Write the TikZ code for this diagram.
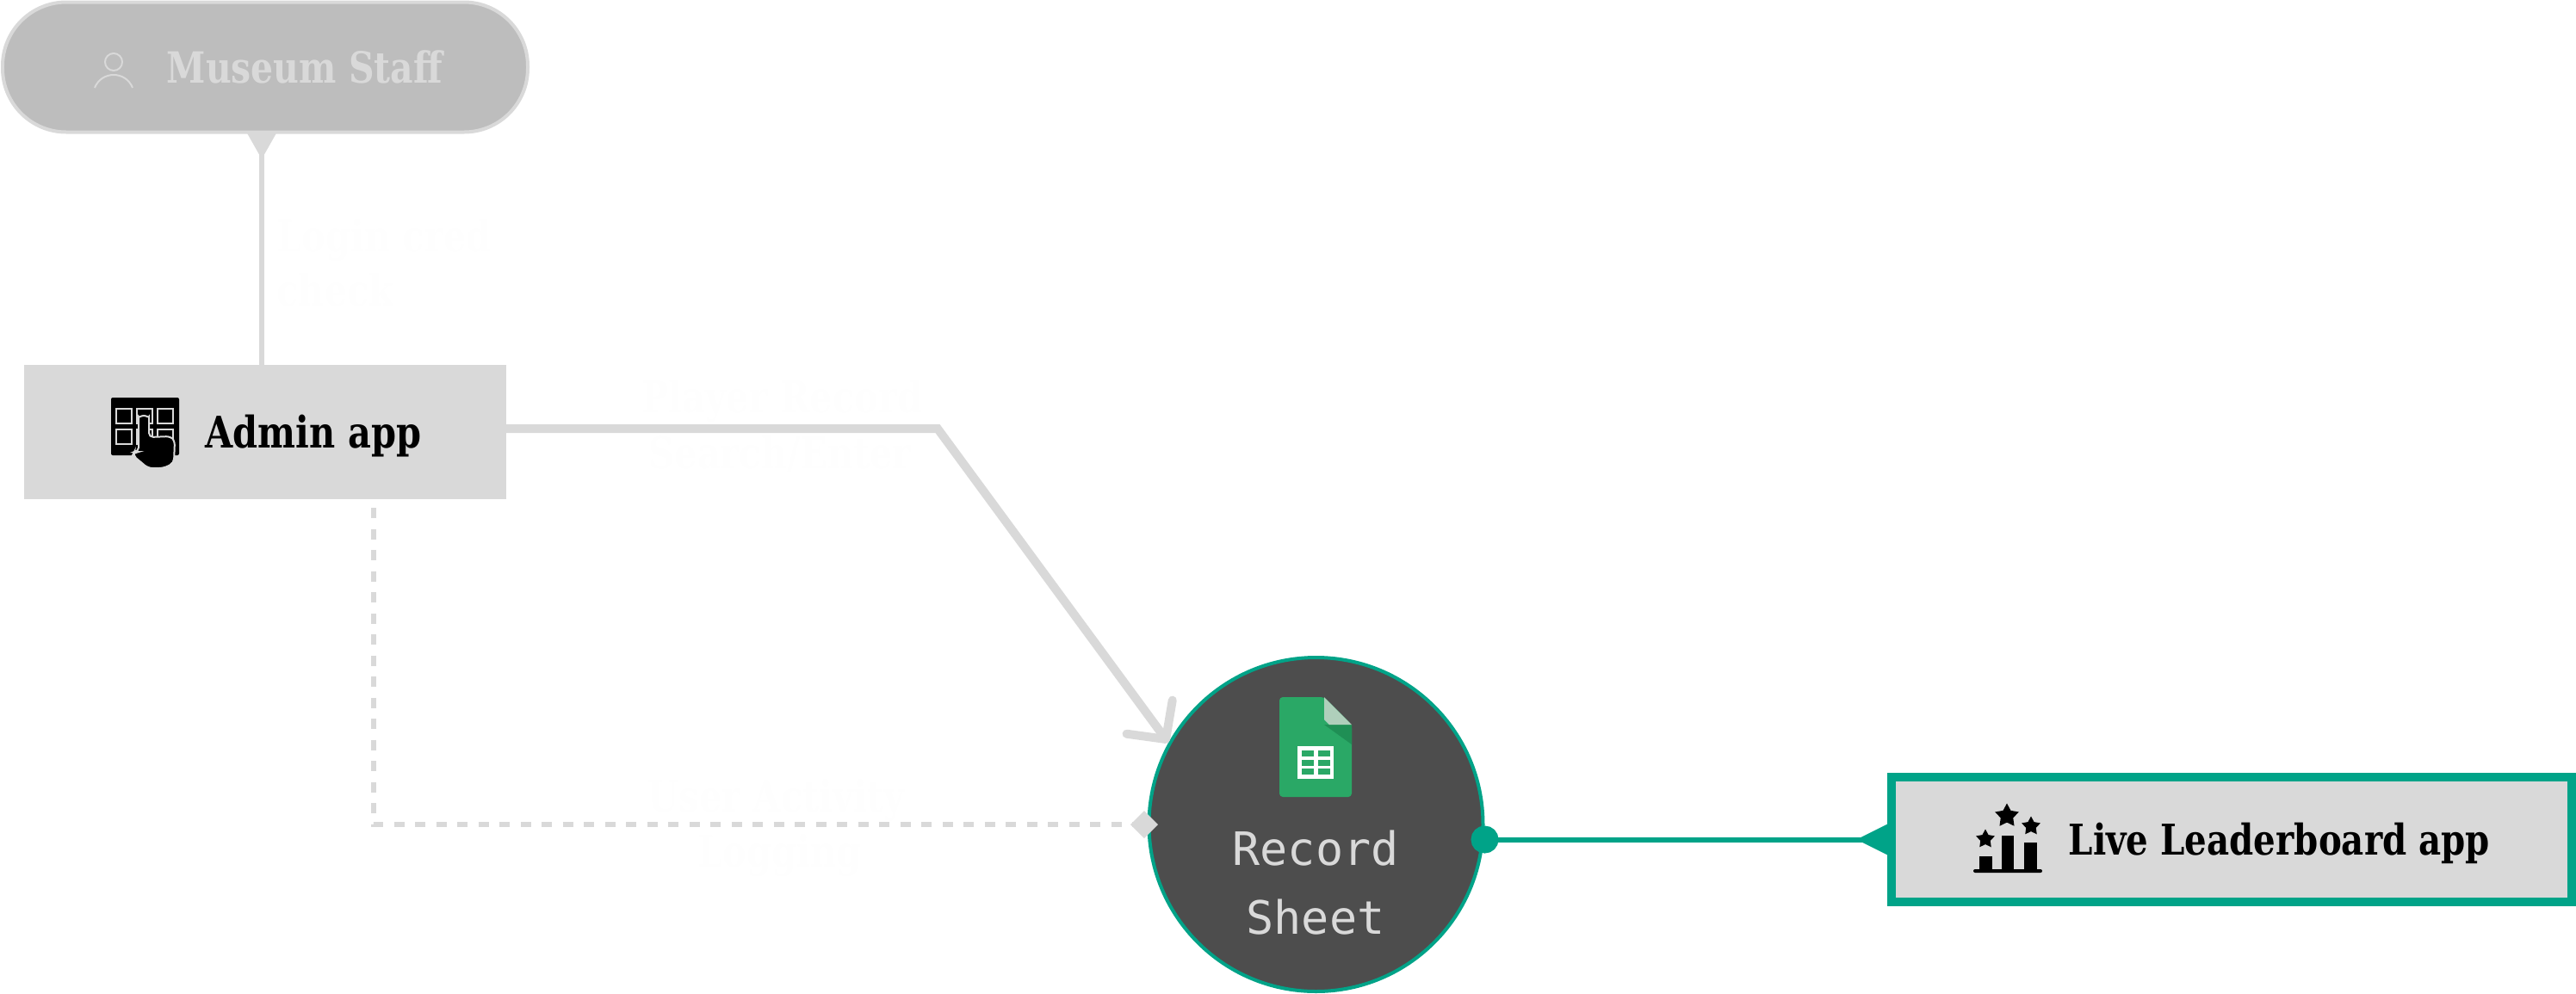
\documentclass[tikz,border=0pt]{standalone}
\usepackage{fontspec}
\usepackage{xcolor}
\usetikzlibrary{arrows.meta, positioning, shapes.geometric}
\newfontfamily\slabfont[FakeStretch=.82]{DejaVu Serif}
\newfontfamily\sheetfont{DejaVu Sans Mono}
\definecolor{boxgray}{HTML}{D9D9D9}
\definecolor{pillgray}{HTML}{BDBDBD}
\definecolor{sheetdark}{HTML}{4D4D4D}
\definecolor{teal}{HTML}{00A388}
\definecolor{docgreen}{HTML}{2AA866}
\definecolor{docshade}{HTML}{1F8F55}
\definecolor{docfold}{HTML}{AFCFBB}
\definecolor{ghost}{HTML}{FEFEFE}
\tikzstyle{pill}=[rectangle, draw=boxgray, line width=.04cm, fill=pillgray, rounded corners=.74cm, minimum width=6.1cm, minimum height=1.51cm]
\tikzstyle{appbox}=[rectangle, fill=boxgray, outer sep=0pt, minimum width=5.6cm, minimum height=1.56cm]
\tikzstyle{livebox}=[rectangle, draw=teal, line width=.1cm, fill=boxgray, minimum width=7.9cm, minimum height=1.45cm]
\tikzstyle{sheetcirc}=[circle, draw=teal, line width=.04cm, fill=sheetdark, minimum size=3.88cm]
\tikzstyle{applabel}=[font=\slabfont\bfseries\fontsize{14.4}{16}\selectfont, inner sep=0pt, anchor=base west]
\tikzstyle{ghostlabel}=[applabel, text=ghost]
\tikzstyle{grayline}=[draw=boxgray, line width=.06cm]
\tikzstyle{tealline}=[draw=teal, line width=.06cm]
\tikzstyle{blackstar}=[star, star points=5, star point ratio=1.9, fill=black, inner sep=0pt]

\begin{document}
\begin{tikzpicture}
\useasboundingbox (0,0) rectangle (29.92,-11.54);

% Record sheet
\node[sheetcirc] (sheet) at (15.285,-9.58) {};
\node[font=\sheetfont\fontsize{15.2}{22.8}\selectfont, text=boxgray, align=center, inner sep=0pt] (sheetlabel) at (15.28,-10.26) {Record\\Sheet};

\path[fill=docgreen, rounded corners=.04cm] (14.86,-8.10) -- (15.38,-8.10) -- (15.70,-8.42) -- (15.70,-9.26) -- (14.86,-9.26) -- cycle;
\fill[docshade] (15.38,-8.42) -- (15.70,-8.42) -- (15.70,-8.65) -- cycle;
\fill[docfold] (15.38,-8.10) -- (15.70,-8.42) -- (15.44,-8.42) -- (15.38,-8.36) -- cycle;
\fill[white] (15.07,-8.67) rectangle (15.49,-9.05);
\foreach \x in {15.12,15.31} {
    \foreach \y in {-8.72,-8.83,-8.93} {
        \fill[docgreen] (\x,\y) rectangle ++(.135,-.07);
    }
}

% Museum staff
\node[pill] (staff) at (3.08,-.78) {};
\node[applabel, text=boxgray, font=\slabfont\bfseries\fontsize{14.2}{16}\selectfont] (stafflabel) at (1.93,-.96) {Museum Staff};
\node[circle, draw=boxgray, line width=.02cm, minimum size=.2cm, inner sep=0pt] (head) at (1.32,-.72) {};
\draw[boxgray, line width=.02cm] (1.10,-1.02) .. controls (1.18,-.82) and (1.46,-.82) .. (1.54,-1.02);

% Admin app
\node[appbox] (admin) at (3.08,-5.02) {};
\node[applabel] (adminlabel) at (2.38,-5.20) {Admin app};
\fill[black, rounded corners=.02cm] (1.29,-4.62) rectangle (2.08,-5.29);
\foreach \x in {1.35,1.59,1.83} {
    \foreach \y in {-4.75,-4.99} {
        \draw[boxgray, line width=.02cm] (\x,\y) rectangle ++(.18,-.17);
    }
}
\draw[fill=black, draw=boxgray, line width=.02cm, rounded corners=.05cm] (1.61,-5.25) -- (1.61,-4.89) arc (180:0:.06) -- (1.73,-5.08) -- (1.98,-5.07) -- (2.03,-5.12) -- (2.02,-5.38) -- (1.90,-5.44) -- (1.72,-5.44) -- (1.54,-5.29) -- (1.56,-5.25) -- cycle;

% Live leaderboard app
\node[livebox] (live) at (25.92,-9.755) {};
\node[applabel, font=\slabfont\bfseries\fontsize{14}{16}\selectfont] (livelabel) at (24.02,-9.93) {Live Leaderboard app};
\fill[black, rounded corners=.02cm] (22.92,-10.10) rectangle (23.72,-10.14);
\fill[black] (22.99,-9.95) rectangle (23.14,-10.12);
\fill[black] (23.25,-9.71) rectangle (23.39,-10.12);
\fill[black] (23.51,-9.79) rectangle (23.66,-10.12);
\foreach \i/\x/\y/\s in {1/23.31/-9.48/.29, 2/23.59/-9.60/.23, 3/23.06/-9.75/.23} {
    \node[blackstar, minimum size=\s cm] (star\i) at (\x,\y) {};
}

% Connectors
\coordinate (elbow) at (10.89,-4.98);
\coordinate (dashelbow) at (4.34,-9.58);
\coordinate (stafftip) at (3.04,-1.55);

\draw[grayline, -{Triangle[reversed, length=.3cm, width=.32cm]}] (admin.north -| stafftip) -- (stafftip);
\draw[draw=boxgray, line width=.1cm, -{Straight Barb[length=.32cm, width=.66cm, round]}] (admin.east |- elbow) -- (elbow) -- (sheet.151);
\draw[grayline, dash pattern=on .12cm off .125cm, shorten <=.1cm, shorten >=-.125cm, -{Turned Square[length=.32cm, width=.32cm]}] (admin.south -| dashelbow) -- (dashelbow) -- (sheet.west);
\draw[tealline, {Circle[length=.32cm, width=.32cm, sep=-.16cm]}-{Triangle[reversed, length=.36cm, width=.34cm]}] (sheet.east |- live.west) -- (live.west);

% Labels
\node[ghostlabel] (recordlabel) at (7.45,-4.79) {Player Record};
\node[ghostlabel] (searchlabel) at (7.53,-5.44) {Search/Enter};
\node[ghostlabel] (activitylabel) at (7.52,-9.43) {User Activity};
\node[ghostlabel] (logginglabel) at (8.10,-10.07) {Logging};
\node[ghostlabel] (credlabel) at (3.21,-2.92) {Login cred};
\node[ghostlabel] (checklabel) at (3.21,-3.55) {check};

\end{tikzpicture}
\end{document}
